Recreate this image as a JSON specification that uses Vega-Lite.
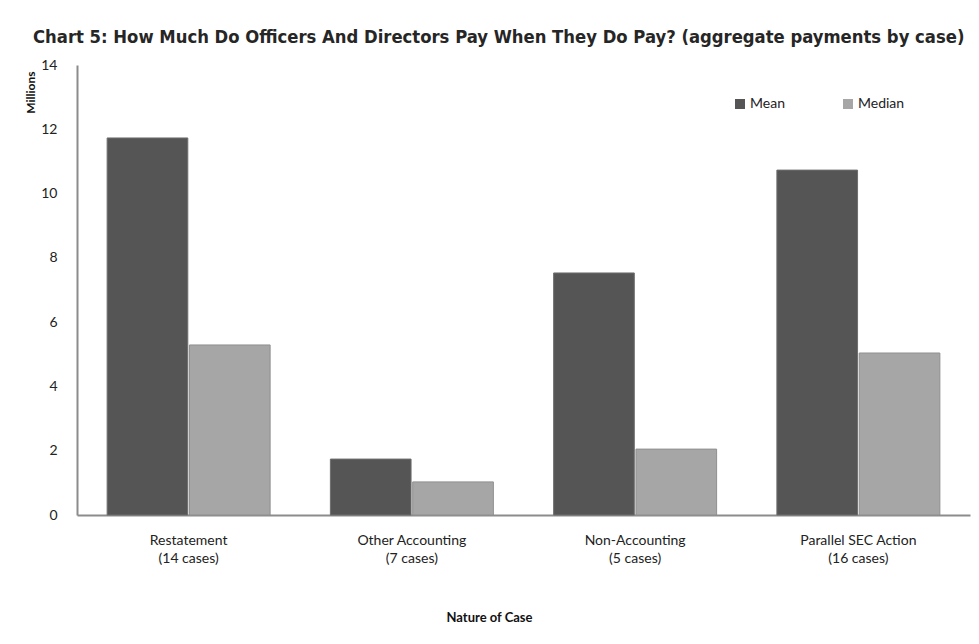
{
  "$schema": "https://vega.github.io/schema/vega-lite/v6.json",
  "width": 893,
  "height": 450,
  "autosize": {"type": "none"},
  "padding": {"left": 77, "top": 65, "right": 9, "bottom": 129},
  "background": "white",
  "title": {
    "text": "Chart 5: How Much Do Officers And Directors Pay When They Do Pay? (aggregate payments by case)",
    "anchor": "start",
    "font": "DejaVu Sans Condensed",
    "fontSize": 18.3,
    "fontWeight": "bold",
    "color": "#262626",
    "dx": -44,
    "offset": 11,
    "frame": "group"
  },
  "data": {
    "values": [
      {"category": "Restatement|(14 cases)", "series": "Mean", "value": 11.73},
      {"category": "Restatement|(14 cases)", "series": "Median", "value": 5.29},
      {"category": "Other Accounting|(7 cases)", "series": "Mean", "value": 1.74},
      {"category": "Other Accounting|(7 cases)", "series": "Median", "value": 1.03},
      {"category": "Non-Accounting|(5 cases)", "series": "Mean", "value": 7.53},
      {"category": "Non-Accounting|(5 cases)", "series": "Median", "value": 2.05},
      {"category": "Parallel SEC Action|(16 cases)", "series": "Mean", "value": 10.73},
      {"category": "Parallel SEC Action|(16 cases)", "series": "Median", "value": 5.04}
    ]
  },
  "mark": {"type": "bar", "strokeWidth": 1},
  "encoding": {
    "x": {
      "field": "category",
      "type": "nominal",
      "sort": null,
      "scale": {"paddingInner": 0.27, "paddingOuter": 0.135},
      "axis": {
        "title": "Nature of Case",
        "titleFont": "Lato",
        "titleFontSize": 13,
        "titleFontWeight": "bold",
        "titleColor": "#111",
        "titleX": 412,
        "titleY": 102,
        "titleAlign": "center",
        "titleBaseline": "middle",
        "labelExpr": "split(datum.label, '|')",
        "labelAngle": 0,
        "labelFont": "Lato",
        "labelFontSize": 14,
        "labelColor": "#222",
        "labelLineHeight": 18,
        "labelPadding": 18,
        "ticks": false,
        "domainColor": "#8c8c8c",
        "domainWidth": 2
      }
    },
    "xOffset": {"field": "series", "type": "nominal", "scale": {"paddingInner": 0.02}},
    "y": {
      "field": "value",
      "type": "quantitative",
      "scale": {"domain": [0, 14], "nice": false},
      "axis": {
        "title": "Millions",
        "titleFont": "Lato",
        "titleFontSize": 12,
        "titleFontWeight": "bold",
        "titleColor": "#111",
        "titleX": -47,
        "titleY": 6,
        "titleAlign": "right",
        "titleBaseline": "middle",
        "values": [0, 2, 4, 6, 8, 10, 12, 14],
        "labelFont": "Lato",
        "labelFontSize": 14,
        "labelColor": "#222",
        "labelPadding": 20,
        "ticks": false,
        "grid": false,
        "domainColor": "#8c8c8c",
        "domainWidth": 2
      }
    },
    "color": {
      "field": "series",
      "type": "nominal",
      "scale": {"domain": ["Mean", "Median"], "range": ["#555555", "#a6a6a6"]},
      "legend": {
        "title": null,
        "orient": "none",
        "direction": "horizontal",
        "legendX": 656,
        "legendY": 32,
        "symbolType": "square",
        "symbolSize": 100,
        "symbolStrokeWidth": 0,
        "labelFont": "Lato",
        "labelFontSize": 14,
        "labelColor": "#222",
        "labelOffset": 3,
        "columnPadding": 56
      }
    },
    "stroke": {
      "field": "series",
      "type": "nominal",
      "scale": {"domain": ["Mean", "Median"], "range": ["#6e6e6e", "#8f8f8f"]},
      "legend": null
    }
  },
  "config": {"view": {"stroke": null}}
}
